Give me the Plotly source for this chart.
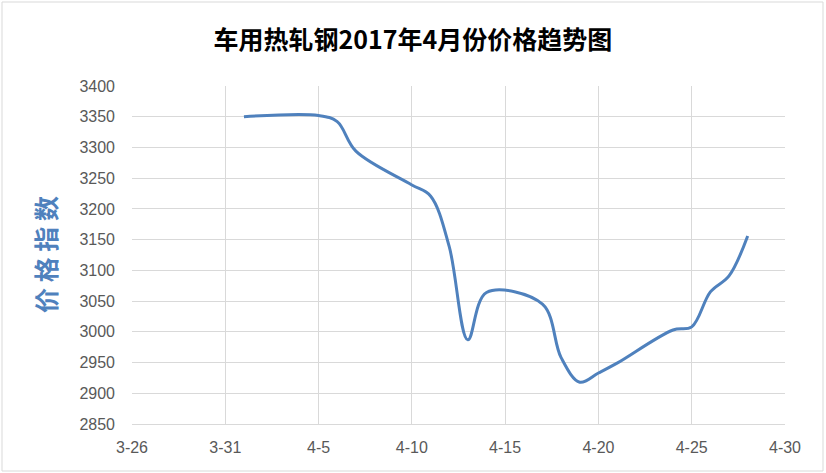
import plotly.graph_objects as go

dates = ["2017-04-01", "2017-04-05", "2017-04-06", "2017-04-07", "2017-04-10",
         "2017-04-11", "2017-04-12", "2017-04-13", "2017-04-14", "2017-04-17",
         "2017-04-18", "2017-04-19", "2017-04-20", "2017-04-21", "2017-04-24",
         "2017-04-25", "2017-04-26", "2017-04-27", "2017-04-28"]
prices = [3350, 3352, 3342, 3294, 3239,
          3221, 3139, 2987, 3064, 3045,
          2958, 2918, 2933, 2949, 3003,
          3008, 3065, 3091, 3156]

tick_vals = ["2017-03-26", "2017-03-31", "2017-04-05", "2017-04-10",
             "2017-04-15", "2017-04-20", "2017-04-25", "2017-04-30"]
tick_text = ["3-26", "3-31", "4-5", "4-10", "4-15", "4-20", "4-25", "4-30"]

title_text = "车用热轧钢2017年4月份价格趋势图"
ytitle_text = "价 格 指 数"

W, H = 826, 473
L, R, T, B = 132, 41, 86, 49
pw, ph = W - L - R, H - T - B

fig = go.Figure()
fig.add_trace(go.Scatter(
    x=dates, y=prices, mode="lines",
    line=dict(color="#4F81BD", width=3, shape="spline", smoothing=1.0),
    showlegend=False, hoverinfo="x+y",
))

grid = "#D9D9D9"
tickfont = dict(family="Liberation Sans, Arial, sans-serif", size=16, color="#595959")

fig.update_layout(
    width=W, height=H,
    margin=dict(l=L, r=R, t=T, b=B),
    paper_bgcolor="white", plot_bgcolor="white",
    title=dict(text="<b>" + title_text + "</b>", x=0.5, xref="container",
               y=1 - 40 / H, yref="container", xanchor="center", yanchor="middle",
               font=dict(family="Noto Sans CJK SC, sans-serif", size=25, color="#000000")),
    xaxis=dict(type="date", range=["2017-03-26", "2017-04-30"],
               tickvals=tick_vals, ticktext=tick_text,
               showgrid=True, gridcolor=grid, gridwidth=1,
               showline=True, linecolor=grid, linewidth=1, mirror=False,
               zeroline=False, ticks="", ticklabelstandoff=9, tickfont=tickfont),
    yaxis=dict(range=[2850, 3400], tick0=2850, dtick=50,
               showgrid=True, gridcolor=grid, gridwidth=1,
               showline=False, zeroline=False, ticks="",
               ticklabelstandoff=16, tickfont=tickfont),
    annotations=[dict(
        text="<b>" + ytitle_text + "</b>", textangle=-90,
        x=(45 - L) / pw, y=(H - B - 255) / ph, xref="paper", yref="paper",
        xanchor="center", yanchor="middle", showarrow=False,
        font=dict(family="Noto Sans CJK SC, sans-serif", size=25, color="#4F81BD"),
    )],
    shapes=[dict(type="rect", xref="paper", yref="paper",
                 x0=(2 - L) / pw, x1=(823 - L) / pw,
                 y0=(H - B - 471) / ph, y1=(H - B - 2) / ph,
                 line=dict(color="#D9D9D9", width=1), fillcolor="rgba(0,0,0,0)",
                 layer="below")],
)

fig.write_html("out.html", config={"displayModeBar": False},
               post_script="document.body.style.margin='0';document.body.style.overflow='hidden';")
